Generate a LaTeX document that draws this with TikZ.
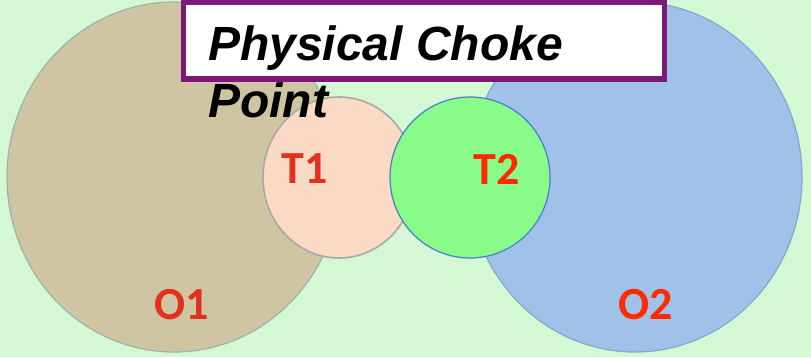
\documentclass[tikz,border=0pt]{standalone}
\usepackage{fontspec}
\setmainfont{Liberation Sans}
\newfontfamily\lblfont{Carlito}
\usetikzlibrary{shapes.geometric}
\definecolor{bgc}{HTML}{D4F7D4}
\definecolor{oonefill}{HTML}{CFC5A3}
\definecolor{oonedraw}{HTML}{9DB3AE}
\definecolor{otwofill}{HTML}{A0C1E8}
\definecolor{otwodraw}{HTML}{86A8CC}
\definecolor{tonefill}{HTML}{FBDAC5}
\definecolor{tonedraw}{HTML}{A9A9A9}
\definecolor{ttwofill}{HTML}{88FB88}
\definecolor{ttwodraw}{HTML}{4A7DCF}
\definecolor{purp}{HTML}{7B1878}
\definecolor{redfaded}{HTML}{E0321E}
\definecolor{redbright}{HTML}{FF2A00}
\tikzset{
  blob/.style={ellipse, inner sep=0pt, outer sep=0pt, line width=1.2pt},
  lbl/.style={font=\lblfont\bfseries\fontsize{46}{50}\selectfont, inner sep=0pt},
  titletext/.style={font=\bfseries\itshape\fontsize{48}{57}\selectfont, inner sep=0pt, anchor=base west}
}
\begin{document}
\begin{tikzpicture}[x=1pt,y=-1pt]
\useasboundingbox (0,0) rectangle (811,357);
\fill[bgc] (0,0) rectangle (811,357);
\node[blob, fill=oonefill, draw=oonedraw, minimum width=334pt, minimum height=350pt] (O1) at (174,177) {};
\node[blob, fill=otwofill, draw=otwodraw, minimum width=334pt, minimum height=350pt] (O2) at (635,177) {};
\node[blob, fill=tonefill, draw=tonedraw, line width=1.6pt, minimum width=152pt, minimum height=161pt] (T1) at (339,177.5) {};
\node[blob, fill=ttwofill, draw=ttwodraw, minimum width=160pt, minimum height=161pt] (T2) at (470,177.5) {};
\node[draw=purp, fill=white, line width=5.5pt, inner sep=0pt, minimum width=481pt, minimum height=76.5pt] (box) at (424,40.75) {};
\node[titletext] (title1) at (208,60) {Physical Choke};
\node[titletext] (title2) at (208,117) {Point};
\node[lbl, text=redfaded] (t1lbl) at (305,169) {T1};
\node[lbl, text=redbright] (t2lbl) at (497,169) {T2};
\node[lbl, text=redfaded] (o1lbl) at (181.5,304.5) {O1};
\node[lbl, text=redbright] (o2lbl) at (646,304.5) {O2};
\end{tikzpicture}
\end{document}
